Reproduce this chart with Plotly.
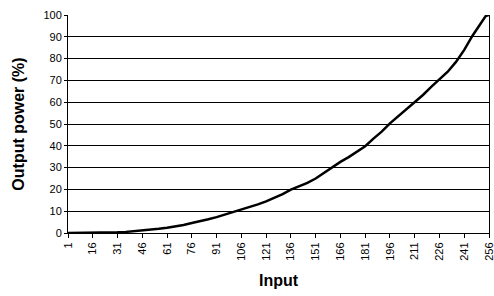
import plotly.graph_objects as go

inputs = [1, 6, 11, 16, 21, 26, 31, 36, 41, 46, 51, 56, 61, 66, 71, 76, 81, 86, 91, 96,
          101, 106, 111, 116, 121, 126, 131, 136, 141, 146, 151, 156, 161, 166, 171, 176,
          181, 186, 191, 196, 201, 206, 211, 216, 221, 226, 231, 236, 241, 246, 251, 254, 256]
power = [0, 0, 0, 0, 0.05, 0.15, 0.3, 0.5, 0.8, 1.1, 1.5, 1.9, 2.4, 3.0, 3.7, 4.6, 5.3, 6.3, 7.3, 8.4,
         9.5, 10.6, 11.9, 13.1, 14.5, 16.0, 17.8, 19.9, 21.3, 23.0, 25.0, 27.5, 30.3, 32.6, 34.8, 37.3,
         39.8, 43.3, 46.5, 50.3, 53.6, 56.5, 59.8, 63.3, 67.0, 70.3, 74.0, 78.5, 84.0, 90.5, 96.5, 99.5, 100]

x_ticks = list(range(1, 257, 15))
y_ticks = list(range(0, 101, 10))

fig = go.Figure()
fig.add_trace(go.Scatter(x=inputs, y=power, mode="lines",
                         line=dict(color="black", width=2.5), showlegend=False, cliponaxis=False))

font = "Liberation Sans, Arial, sans-serif"
fig.update_layout(
    width=494, height=296,
    margin=dict(l=68, r=5, t=15, b=63, autoexpand=False),
    paper_bgcolor="white", plot_bgcolor="white",
    font=dict(family=font, size=11, color="black"),
    xaxis=dict(range=[1, 256], tickvals=x_ticks, ticktext=[str(v) for v in x_ticks],
               tickangle=-90, ticks="outside", ticklen=4, tickcolor="black", automargin=False,
               ticklabeloverflow="allow",
               showline=True, linecolor="black", linewidth=1, showgrid=False, zeroline=False,
               title=dict(text="<b>Input</b>", font=dict(size=16), standoff=15)),
    yaxis=dict(range=[0, 100], tickvals=y_ticks, ticks="outside", ticklen=3, tickcolor="black",
               automargin=False, ticklabeloverflow="allow",
               showline=True, linecolor="black", linewidth=1, mirror=True,
               showgrid=True, gridcolor="black", gridwidth=1, zeroline=False,
               title=dict(text="<b>Output power (%)</b>", font=dict(size=16), standoff=14)),
)

fig.write_html("out.html", config={"displayModeBar": False},
               post_script="document.body.style.margin='0';document.body.style.overflow='hidden';")
